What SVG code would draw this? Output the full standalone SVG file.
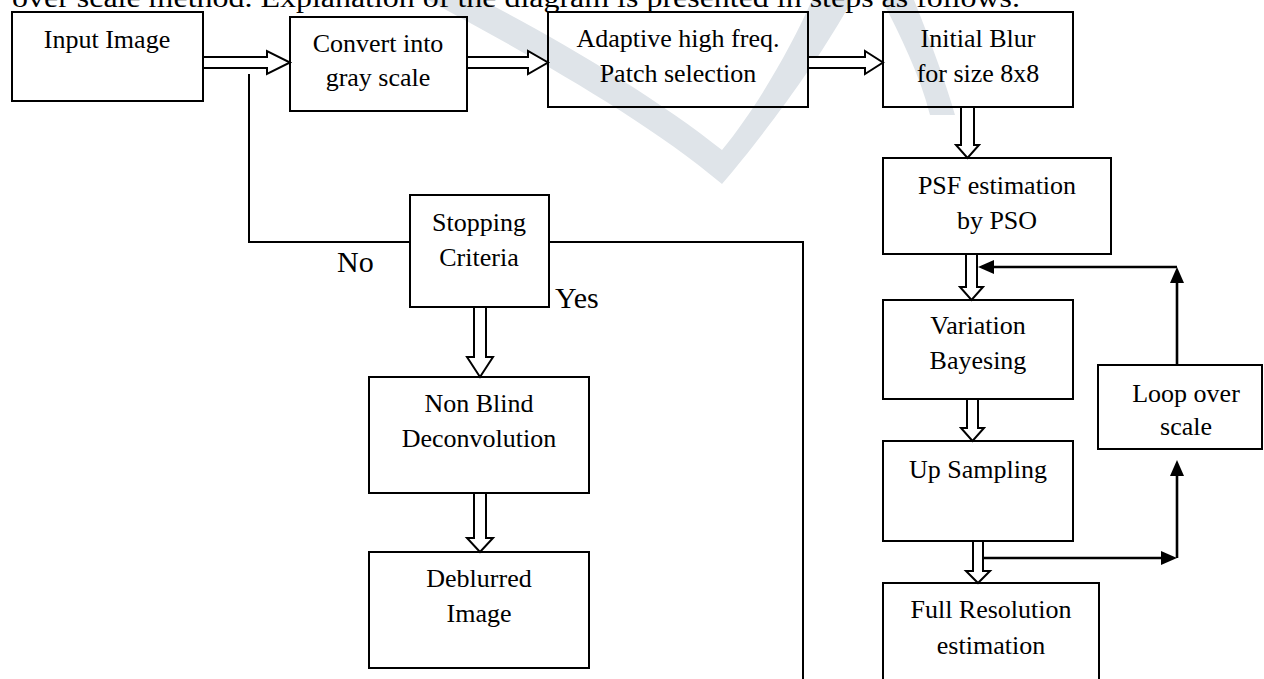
<svg xmlns="http://www.w3.org/2000/svg" width="1264" height="679" viewBox="0 0 1264 679">
<style>
.box{fill:none;stroke:#000;stroke-width:2}
.t{font-family:"Liberation Serif","Times New Roman",serif;font-size:26px;fill:#000;text-anchor:middle}
.lbl{font-family:"Liberation Serif","Times New Roman",serif;font-size:30px;fill:#000}
.ha{fill:#fff;stroke:#000;stroke-width:2;stroke-linejoin:miter}
.ln{fill:none;stroke:#000;stroke-width:2}
.fl{fill:none;stroke:#000;stroke-width:2.6}
.hd{fill:#000;stroke:none}
</style>
<rect width="1264" height="679" fill="#fff"/>
<g id="watermark" fill="#dfe4e9">
<path d="M428,0 C520,50 640,115 722,184 C760,140 820,60 852,0 L812,0 C790,50 755,110 722,150 C660,100 560,40 482,0 Z"/>
<path d="M882,0 L914,0 C930,40 945,80 955,115 L930,115 C920,75 900,35 882,0 Z"/>
</g>
<text x="12" y="7" font-family="Liberation Serif, Times New Roman, serif" font-size="28" textLength="1008" lengthAdjust="spacingAndGlyphs">over scale method. Explanation of the diagram is presented in steps as follows.</text>
<g id="connectors">
<path class="ha" d="M203,57 H267 V51 L290,62.5 L267,74 V68 H203"/>
<path class="ha" d="M467,57 H528 V51 L548,62.5 L528,74 V68 H467"/>
<path class="ha" d="M808,57 H865 V51 L883,62.5 L865,74 V68 H808"/>
<path class="ha" d="M961,107 V145 H956 L967.5,158 L979,145 H974 V107"/>
<path class="ha" d="M966,254 V287 H960 L971.5,300 L983,287 H977 V254"/>
<path class="ha" d="M967,399 V428 H961 L972.5,441 L984,428 H978 V399"/>
<path class="ha" d="M973,541 V571 H966 L978,583 L990,571 H983 V541"/>
<path class="ha" d="M474,307 V357 H467 L480,377 L493,357 H486 V307"/>
<path class="ha" d="M474,493 V538 H467 L480,552 L493,538 H486 V493"/>
<polyline class="ln" points="249,74 249,242 410,242"/>
<polyline class="ln" points="549,242 803,242 803,690"/>
<line class="fl" x1="983" y1="558" x2="1163" y2="558"/>
<polygon class="hd" points="1177,558 1161,551 1161,565"/>
<line class="fl" x1="1177" y1="558" x2="1177" y2="474"/>
<polygon class="hd" points="1177,460 1170,476 1184,476"/>
<line class="fl" x1="1177" y1="365" x2="1177" y2="281"/>
<polygon class="hd" points="1177,267 1170,283 1184,283"/>
<line class="fl" x1="1177" y1="267" x2="992" y2="267"/>
<polygon class="hd" points="978,267 994,260 994,274"/>
</g>
<g id="input">
<rect class="box" x="12" y="12" width="191" height="89"/>
<text class="t" x="107" y="48">Input Image</text>
</g>
<g id="gray">
<rect class="box" x="290" y="17" width="177" height="94"/>
<text class="t" x="378" y="52">Convert into</text>
<text class="t" x="378" y="86">gray scale</text>
</g>
<g id="patch">
<rect class="box" x="548" y="12" width="260" height="95"/>
<text class="t" x="678" y="47">Adaptive high freq.</text>
<text class="t" x="678" y="82">Patch selection</text>
</g>
<g id="blur">
<rect class="box" x="883" y="12" width="190" height="95"/>
<text class="t" x="978" y="47">Initial Blur</text>
<text class="t" x="978" y="82">for size 8x8</text>
</g>
<g id="psf">
<rect class="box" x="883" y="158" width="228" height="96"/>
<text class="t" x="997" y="194">PSF estimation</text>
<text class="t" x="997" y="229">by PSO</text>
</g>
<g id="variation">
<rect class="box" x="883" y="300" width="190" height="99"/>
<text class="t" x="978" y="334">Variation</text>
<text class="t" x="978" y="369">Bayesing</text>
</g>
<g id="loop">
<rect class="box" x="1098" y="365" width="164" height="84"/>
<text class="t" x="1186" y="402">Loop over</text>
<text class="t" x="1186" y="435">scale</text>
</g>
<g id="upsampling">
<rect class="box" x="883" y="441" width="190" height="100"/>
<text class="t" x="978" y="478">Up Sampling</text>
</g>
<g id="fullres">
<rect class="box" x="883" y="583" width="216" height="110"/>
<text class="t" x="991" y="618">Full Resolution</text>
<text class="t" x="991" y="654">estimation</text>
</g>
<g id="stopping">
<rect class="box" x="410" y="195" width="139" height="112"/>
<text class="t" x="479" y="231">Stopping</text>
<text class="t" x="479" y="266">Criteria</text>
<text class="lbl" x="337" y="272">No</text>
<text class="lbl" x="555" y="308">Yes</text>
</g>
<g id="nonblind">
<rect class="box" x="369" y="377" width="220" height="116"/>
<text class="t" x="479" y="412">Non Blind</text>
<text class="t" x="479" y="447">Deconvolution</text>
</g>
<g id="deblurred">
<rect class="box" x="369" y="552" width="220" height="116"/>
<text class="t" x="479" y="587">Deblurred</text>
<text class="t" x="479" y="622">Image</text>
</g>
</svg>
